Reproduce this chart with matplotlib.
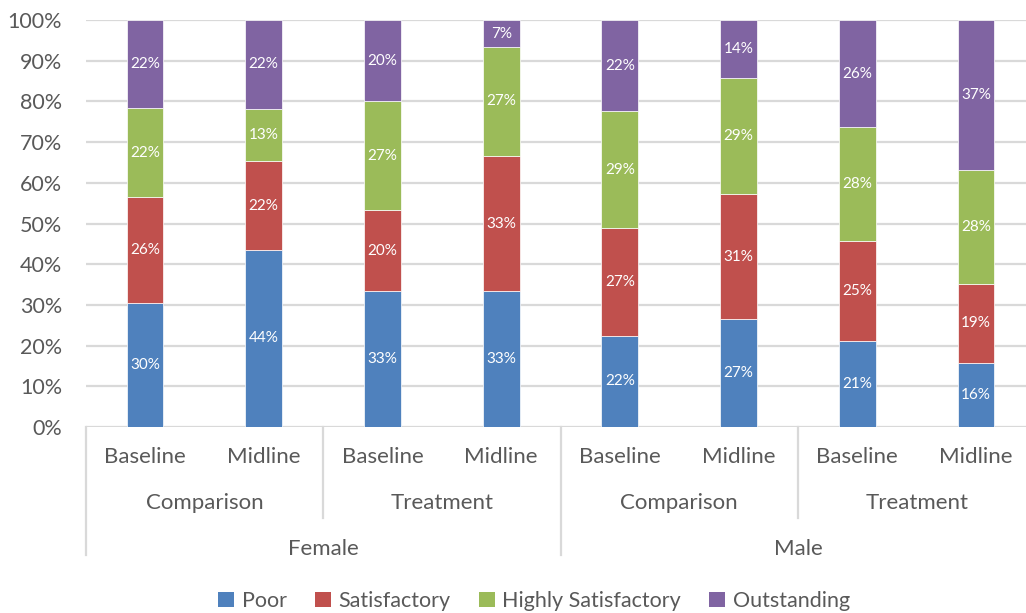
import matplotlib
matplotlib.use("Agg")
import matplotlib.pyplot as plt
from matplotlib.transforms import blended_transform_factory
from matplotlib.lines import Line2D
from matplotlib.patches import Patch

# Hierarchical category axis
groups = ["Female", "Male"]
arms = ["Comparison", "Treatment"]
rounds = ["Baseline", "Midline"]
series_names = ["Poor", "Satisfactory", "Highly Satisfactory", "Outstanding"]

# Share of respondents (%) per bar, ordered Female/Comparison/Baseline ... Male/Treatment/Midline
poor = [30.43, 43.55, 33.33, 33.33, 22.45, 26.53, 21.05, 15.79]
satisfactory = [26.09, 21.70, 20.00, 33.33, 26.53, 30.61, 24.56, 19.30]
highly_satisfactory = [21.74, 13.00, 26.67, 26.67, 28.57, 28.57, 28.07, 28.07]
outstanding = [21.74, 21.75, 20.00, 6.67, 22.45, 14.29, 26.32, 36.84]

colors = ["#4F81BD", "#C0504D", "#9BBB59", "#8064A2"]
text_color = "#595959"
grid_color = "#D9D9D9"

plt.rcParams["font.family"] = ["Lato", "DejaVu Sans"]

W, H = 1026, 613
fig = plt.figure(figsize=(W / 100, H / 100), dpi=100)

left_px, right_px, top_px, bottom_px = 85.6, 1035.4, 20, 427
ax = fig.add_axes([left_px / W, 1 - bottom_px / H,
                   (right_px - left_px) / W, (bottom_px - top_px) / H])

n = len(poor)
x = list(range(n))
bar_w = 0.31
series = [poor, satisfactory, highly_satisfactory, outstanding]
bottoms = [0.0] * n
for vals, col, name in zip(series, colors, series_names):
    ax.bar(x, vals, bar_w, bottom=bottoms, color=col, edgecolor="white",
           linewidth=0.5, label=name, zorder=3)
    for i, v in enumerate(vals):
        ax.text(i, bottoms[i] + v / 2, f"{v:.0f}%", ha="center", va="center",
                color="white", fontsize=11, zorder=4)
    bottoms = [b + v for b, v in zip(bottoms, vals)]

ax.set_xlim(-0.5, n - 0.5)
ax.set_ylim(0, 100)
ax.set_yticks(range(0, 101, 10))
ax.set_yticklabels([f"{t}%" for t in range(0, 101, 10)])
ax.yaxis.grid(True, color=grid_color, linewidth=1.6, zorder=0)
ax.set_axisbelow(True)
ax.set_xticks([])
for s in ax.spines.values():
    s.set_visible(False)
ax.tick_params(axis="y", length=0, pad=17, labelsize=15.5, labelcolor=text_color)

# Multi-level category labels below the plot
tr = blended_transform_factory(ax.transData, fig.transFigure)
y_round = 1 - 457 / H
y_arm = 1 - 503 / H
y_group = 1 - 549 / H
cat_size = 16
for i in range(n):
    ax.text(i, y_round, rounds[i % 2], transform=tr, ha="center", va="center",
            fontsize=cat_size, color=text_color)
for j in range(4):
    ax.text(2 * j + 0.5, y_arm, arms[j % 2], transform=tr, ha="center",
            va="center", fontsize=cat_size, color=text_color)
for k in range(2):
    ax.text(4 * k + 1.5, y_group, groups[k], transform=tr, ha="center",
            va="center", fontsize=cat_size, color=text_color)

y0 = 1 - bottom_px / H
for xs in [1.5, 5.5]:
    ax.add_line(Line2D([xs, xs], [y0, 1 - 518 / H], transform=tr,
                       color=grid_color, linewidth=1.6, clip_on=False))
for xs in [-0.5, 3.5, 7.5]:
    ax.add_line(Line2D([xs, xs], [y0, 1 - 555 / H], transform=tr,
                       color=grid_color, linewidth=1.6, clip_on=False))

handles = [Patch(facecolor=c, edgecolor="none") for c in colors]
fig.legend(handles, series_names, loc="center", ncol=4,
           bbox_to_anchor=(534 / W, 1 - 601 / H), frameon=False,
           fontsize=15.5, handlelength=0.75, handleheight=0.75,
           handletextpad=0.35, columnspacing=1.3, labelcolor=text_color)

fig.savefig("out.png", dpi=100)
